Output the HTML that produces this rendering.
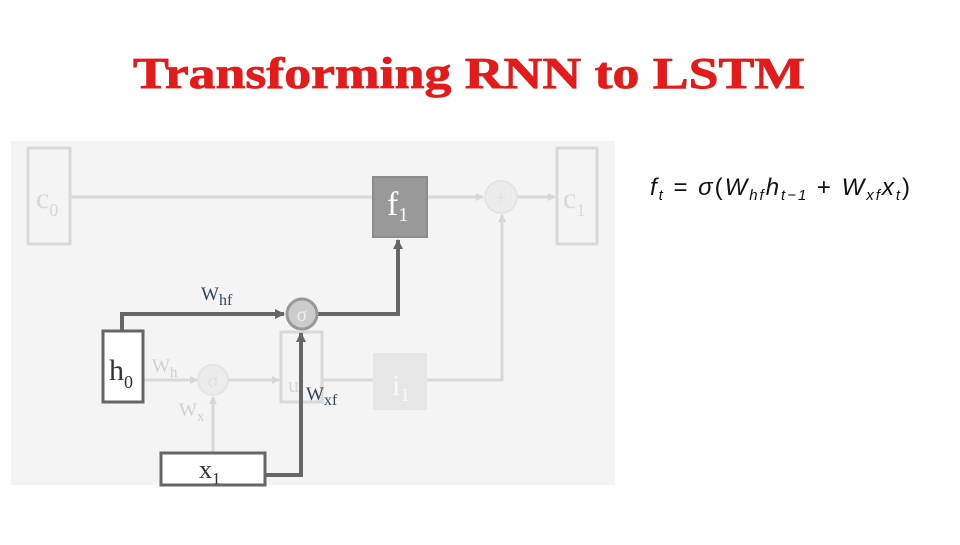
<!DOCTYPE html><html><head><style>body{margin:0;width:960px;height:540px;background:#fff;overflow:hidden;font-family:"Liberation Serif",serif}</style></head><body>
<svg width="960" height="540" xmlns="http://www.w3.org/2000/svg" font-family="Liberation Serif, serif">
<text x="133" y="88" textLength="672" lengthAdjust="spacingAndGlyphs" font-size="44" font-weight="bold" fill="#e31b1b" stroke="#e31b1b" stroke-width="0.8">Transforming RNN to LSTM</text>
<rect x="11" y="141" width="604" height="344" fill="#f4f4f4"/>
<defs><marker id="al" markerWidth="8" markerHeight="8" refX="7" refY="4" orient="auto" markerUnits="userSpaceOnUse"><path d="M0,0L8,4L0,8z" fill="#d6d6d6"/></marker>
<marker id="ad" markerWidth="10" markerHeight="10" refX="9" refY="5" orient="auto" markerUnits="userSpaceOnUse"><path d="M0,0L10,5L0,10z" fill="#666"/></marker></defs>
<g stroke="#d9d9d9" stroke-width="3" fill="none">
<rect x="28" y="148" width="42" height="96"/>
<rect x="557" y="148" width="40" height="96"/>
<line x1="70" y1="197" x2="373" y2="197"/>
<line x1="428" y1="197" x2="483" y2="197" marker-end="url(#al)"/>
<line x1="518" y1="197" x2="555" y2="197" marker-end="url(#al)"/>
<polyline points="427,380 502,380 502,215" marker-end="url(#al)"/>
<line x1="143" y1="380" x2="197" y2="380" marker-end="url(#al)"/>
<line x1="229" y1="380" x2="279" y2="380" marker-end="url(#al)"/>
<line x1="322" y1="380" x2="373" y2="380"/>
<line x1="213" y1="452" x2="213" y2="397" marker-end="url(#al)"/>
<rect x="281" y="332" width="41" height="70"/>
</g>
<circle cx="501" cy="197" r="16" fill="#ececec" stroke="#e4e4e4" stroke-width="2"/>
<text x="501" y="204" text-anchor="middle" font-size="20" fill="#e0e0e0">+</text>
<circle cx="213" cy="380" r="15" fill="#ececec" stroke="#e4e4e4" stroke-width="2"/>
<text x="213" y="387" text-anchor="middle" font-size="20" fill="#e0e0e0">σ</text>
<rect x="373" y="353" width="54" height="57" fill="#e6e6e6"/>
<text x="392" y="395" font-size="30" fill="#f8f8f8">i<tspan font-size="19" dy="6">1</tspan></text>
<text x="36" y="208" font-size="30" fill="#d8d8d8">c<tspan font-size="18" dy="8">0</tspan></text>
<text x="563" y="208" font-size="30" fill="#d8d8d8">c<tspan font-size="18" dy="8">1</tspan></text>
<text x="152" y="372" font-size="19" fill="#d0d0d0">W<tspan font-size="15" dy="5">h</tspan></text>
<text x="179" y="416" font-size="19" fill="#d0d0d0">W<tspan font-size="15" dy="5">x</tspan></text>
<text x="288" y="392" font-size="22" fill="#d8d8d8">u</text>
<rect x="373" y="177" width="54" height="60" fill="#999" stroke="#8c8c8c" stroke-width="2"/>
<text x="387" y="215" font-size="34" fill="#fff">f<tspan font-size="20" dy="6">1</tspan></text>
<g stroke="#666" stroke-width="4" fill="none">
<polyline points="122,330 122,314 284,314" marker-end="url(#ad)"/>
<polyline points="318,314 398,314 398,240" marker-end="url(#ad)"/>
<polyline points="265,475 301,475 301,333" marker-end="url(#ad)"/>
</g>
<circle cx="302" cy="314" r="15" fill="#ccc" stroke="#999" stroke-width="3"/>
<text x="302" y="321" text-anchor="middle" font-size="20" fill="#eee">σ</text>
<rect x="103" y="331" width="40" height="71" fill="#fff" stroke="#666" stroke-width="3"/>
<text x="109" y="380" font-size="30" fill="#333">h<tspan font-size="18" dy="8">0</tspan></text>
<rect x="161" y="453" width="104" height="32" fill="#fff" stroke="#666" stroke-width="3"/>
<text x="199" y="478" font-size="26" fill="#333">x<tspan font-size="17" dy="6">1</tspan></text>
<text x="201" y="300" font-size="19" fill="#345">W<tspan font-size="16" dy="5">hf</tspan></text>
<text x="306" y="400" font-size="19" fill="#345">W<tspan font-size="16" dy="5">xf</tspan></text>
<text x="650" y="195" textLength="260" lengthAdjust="spacing" font-size="24" font-family="Liberation Sans, sans-serif" fill="#111"><tspan font-style="italic">f</tspan><tspan font-size="15" dy="5" font-style="italic">t</tspan><tspan dy="-5"> = </tspan><tspan font-style="italic">σ</tspan>(<tspan font-style="italic">W</tspan><tspan font-size="15" dy="5" font-style="italic">hf</tspan><tspan dy="-5" font-style="italic">h</tspan><tspan font-size="15" dy="5" font-style="italic">t−1</tspan><tspan dy="-5"> + </tspan><tspan font-style="italic">W</tspan><tspan font-size="15" dy="5" font-style="italic">xf</tspan><tspan dy="-5" font-style="italic">x</tspan><tspan font-size="15" dy="5" font-style="italic">t</tspan><tspan dy="-5">)</tspan></text>
</svg></body></html>
